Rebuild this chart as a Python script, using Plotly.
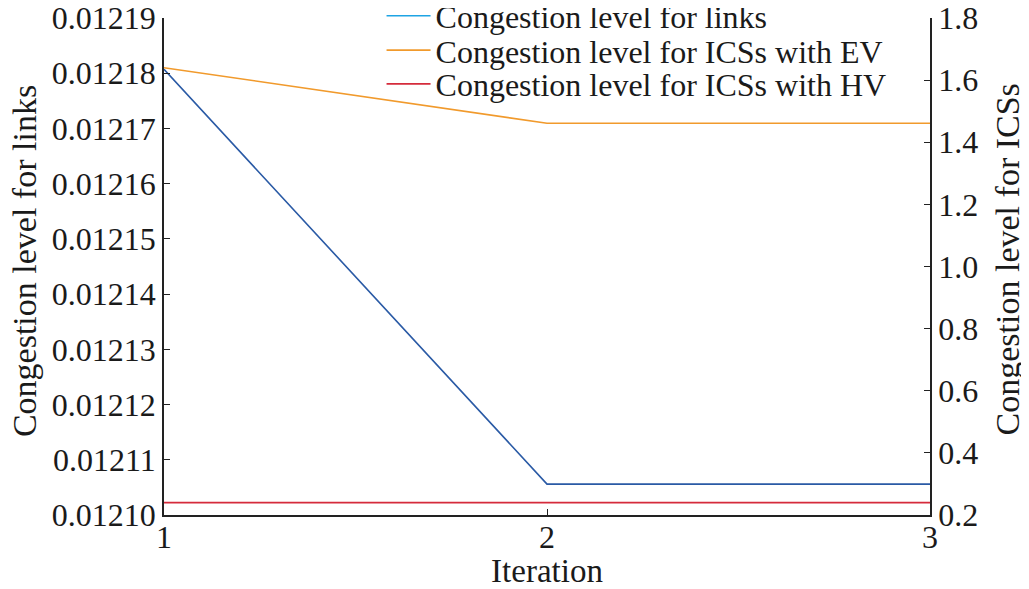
import plotly.graph_objects as go

iterations = [1, 2, 3]
links = [0.0121807, 0.0121056, 0.0121056]
ics_ev = [1.640, 1.461, 1.461]
ics_hv = [0.240, 0.240, 0.240]

left_ticks = [0.01210, 0.01211, 0.01212, 0.01213, 0.01214, 0.01215, 0.01216, 0.01217, 0.01218, 0.01219]
right_ticks = [0.2, 0.4, 0.6, 0.8, 1.0, 1.2, 1.4, 1.6, 1.8]

FONT = "Liberation Serif, Times New Roman, serif"
tick_fs = 32
title_fs = 34
leg_fs = 32

fig = go.Figure()
fig.add_trace(go.Scatter(x=iterations, y=links, mode="lines", line=dict(color="#2a5aa5", width=1.6),
                         showlegend=False, yaxis="y"))
fig.add_trace(go.Scatter(x=[None], y=[None], mode="lines", line=dict(color="#1ea4e4", width=1.6),
                         name="Congestion level for links", yaxis="y", legend="legend"))
fig.add_trace(go.Scatter(x=iterations, y=ics_ev, mode="lines", line=dict(color="#f19a2c", width=1.6),
                         name="Congestion level for ICSs with EV", yaxis="y2", legend="legend2"))
fig.add_trace(go.Scatter(x=iterations, y=ics_hv, mode="lines", line=dict(color="#d52b3b", width=1.6),
                         name="Congestion level for ICSs with HV", yaxis="y2", legend="legend3"))

leg_common = dict(x=0.284, xanchor="left", yanchor="middle", bgcolor="rgba(0,0,0,0)",
                  font=dict(family=FONT, size=leg_fs, color="#1a1a1a"), itemwidth=44)

axis_common = dict(ticks="inside", ticklen=6, tickcolor="#222", showline=True, linecolor="#222",
                   linewidth=1.5, showgrid=False, zeroline=False, automargin=False,
                   ticklabeloverflow="allow", tickfont=dict(family=FONT, size=tick_fs))

fig.update_layout(
    width=1021, height=581,
    margin=dict(l=156, r=99, t=10, b=74, autoexpand=False),
    paper_bgcolor="white", plot_bgcolor="white",
    font=dict(family=FONT, size=tick_fs, color="#1a1a1a"),
    xaxis=dict(range=[1, 3], tickvals=iterations, ticktext=[str(i) for i in iterations],
               ticklabelstandoff=-7,
               title=dict(text="Iteration", font=dict(family=FONT, size=33), standoff=0),
               **axis_common),
    yaxis=dict(range=[0.01210, 0.0121900001], tickvals=left_ticks, tickformat=".5f",
               **axis_common),
    yaxis2=dict(range=[0.2, 1.8000001], tickvals=right_ticks, tickformat=".1f", overlaying="y", side="right",
                **axis_common),
    legend=dict(y=1.004, **leg_common),
    legend2=dict(y=0.935, **leg_common),
    legend3=dict(y=0.867, **leg_common),
    annotations=[
        dict(text="Congestion level for links", xref="paper", yref="paper", x=-0.182, y=0.51,
             xanchor="center", yanchor="middle", textangle=-90, showarrow=False,
             font=dict(family=FONT, size=title_fs, color="#1a1a1a")),
        dict(text="Congestion level for ICSs", xref="paper", yref="paper", x=1.101, y=0.515,
             xanchor="center", yanchor="middle", textangle=-90, showarrow=False,
             font=dict(family=FONT, size=title_fs, color="#1a1a1a")),
    ],
)

fig.write_html("out.html")
